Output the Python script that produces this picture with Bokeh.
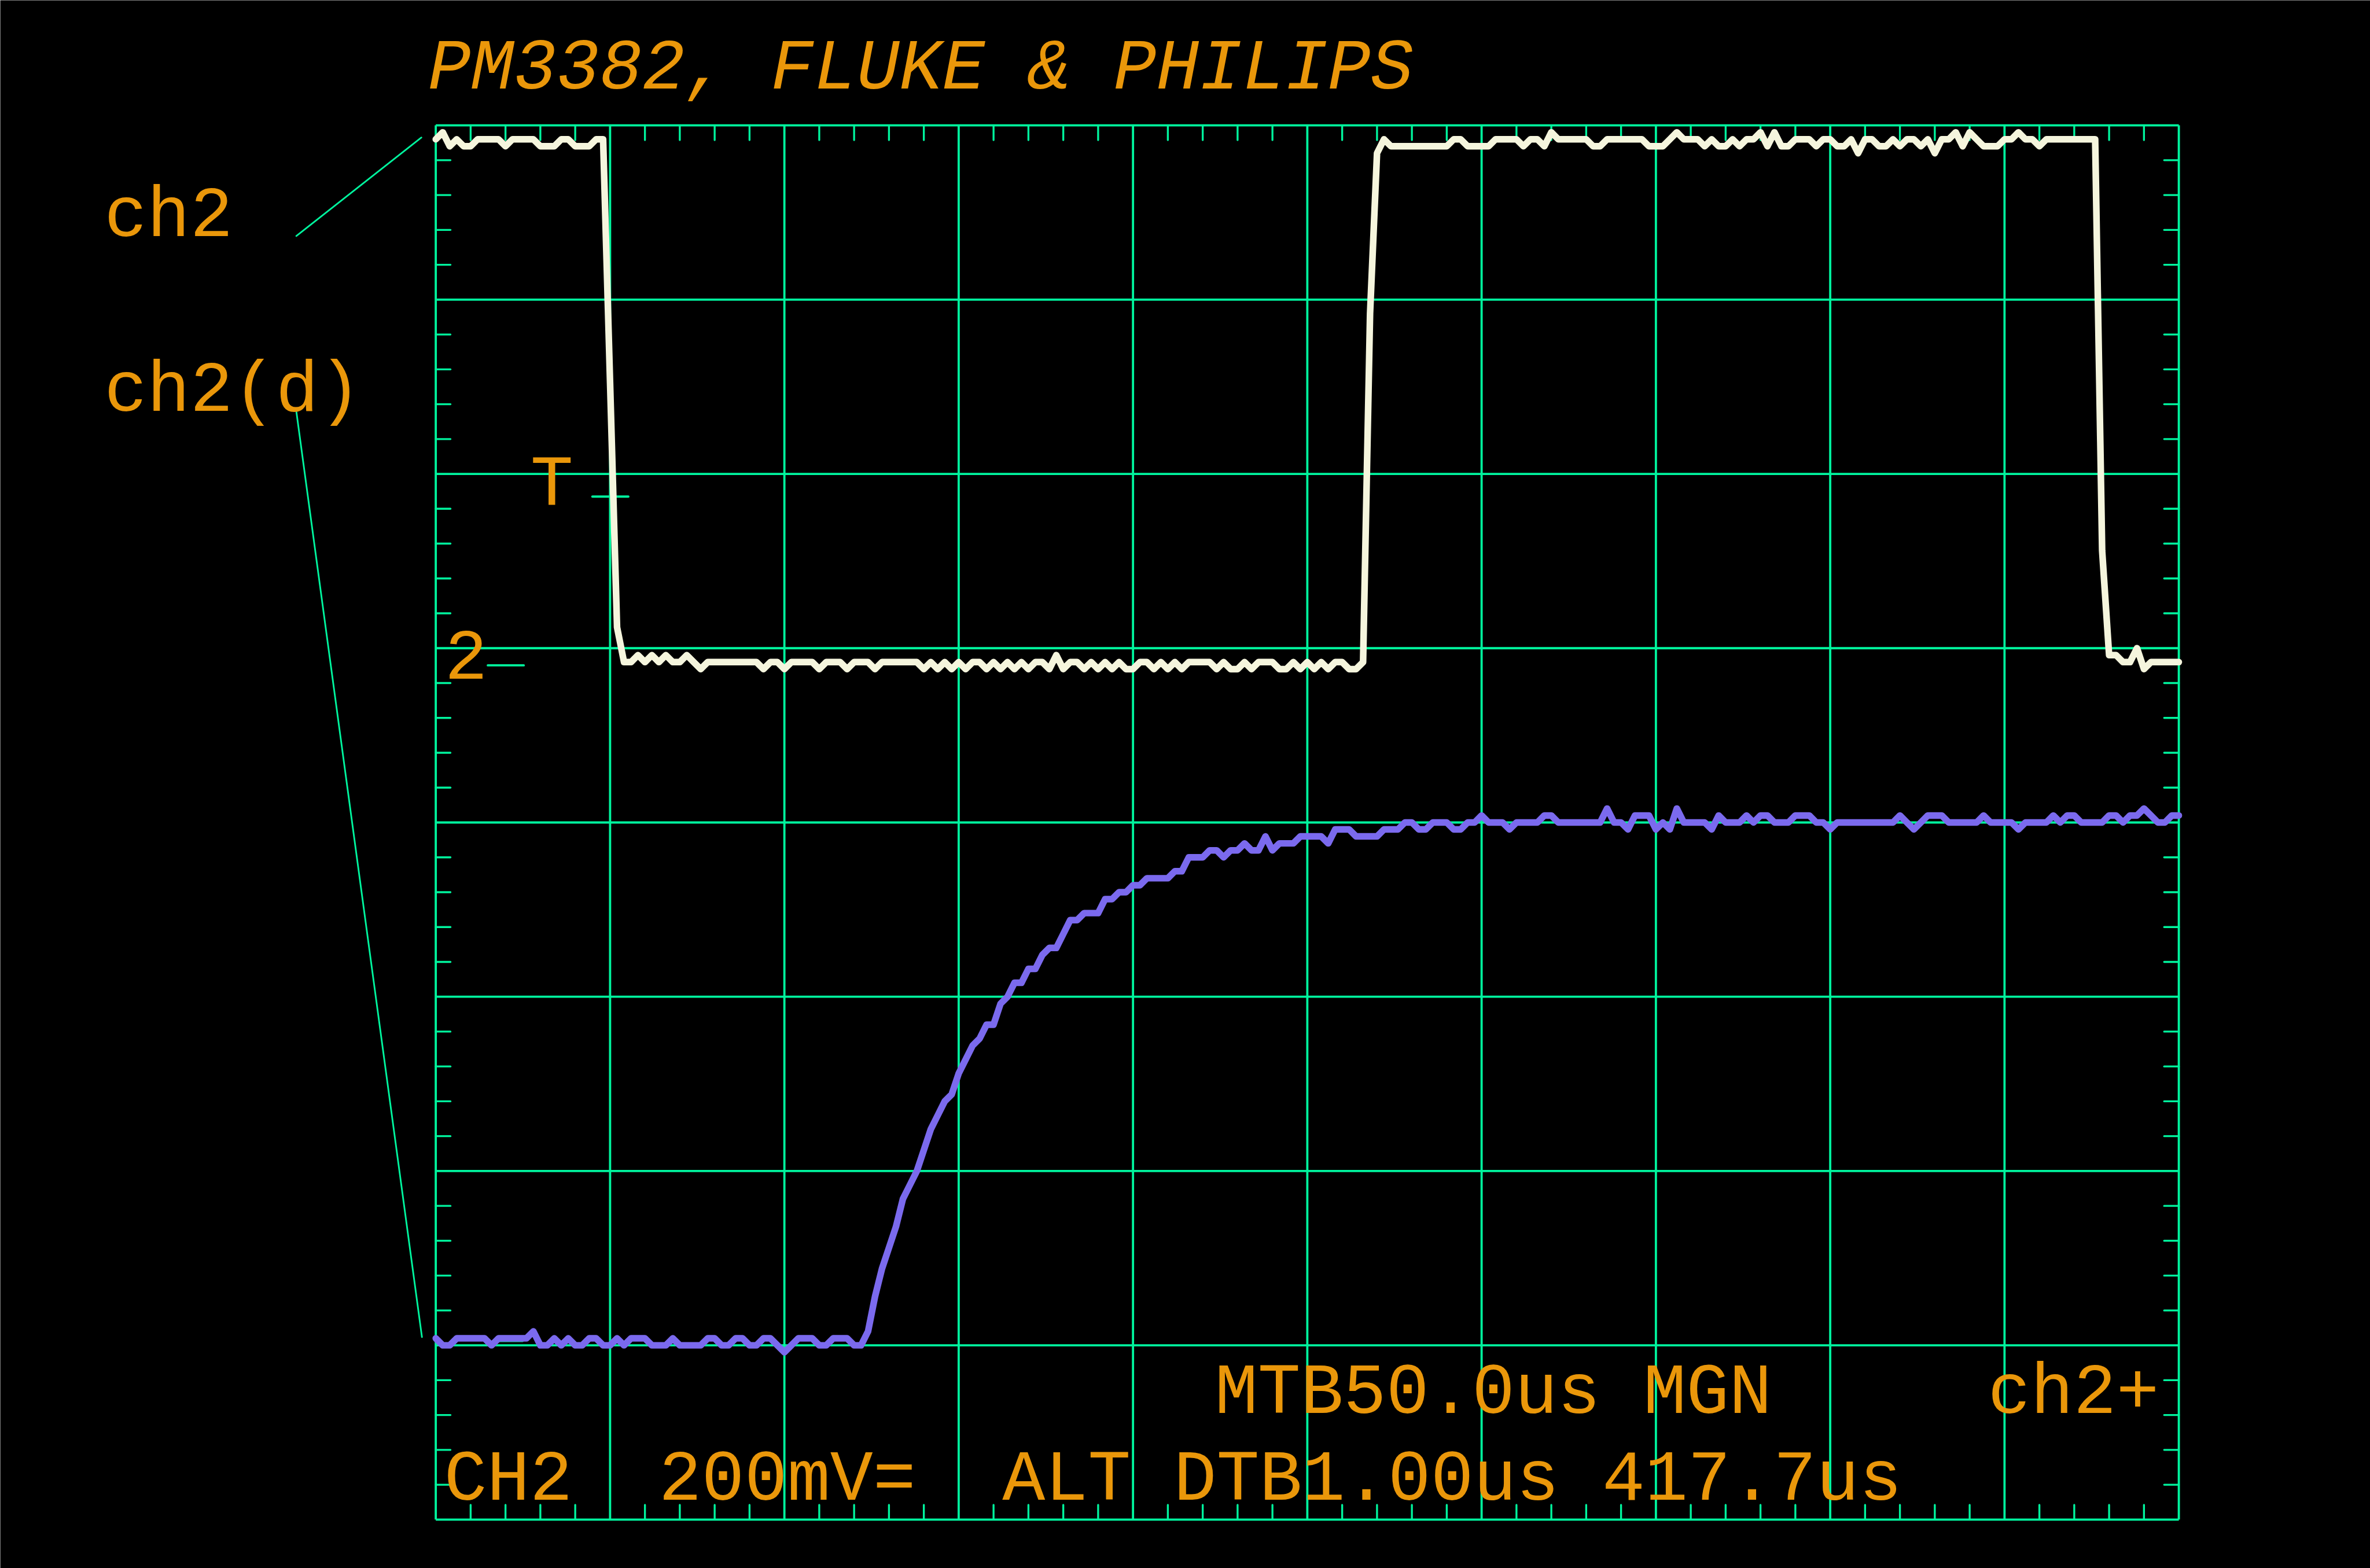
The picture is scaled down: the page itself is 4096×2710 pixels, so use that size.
from bokeh.plotting import figure
from bokeh.models import Range1d, ColumnDataSource
from bokeh.core.properties import value
from bokeh.embed import file_html
from bokeh.resources import INLINE

# ---------------- data (ADC counts, 25 counts per division; 25 samples per division) ----------------
ch2 = [198, 199, 197, 198, 197, 197, 198, 198, 198, 198, 197, 198, 198, 198, 198, 197, 197, 197, 198, 198,
       197, 197, 197, 198, 198,
       163, 128, 123, 123, 124, 123, 124, 123, 124, 123, 123, 124, 123, 122,
       123, 123, 123, 123, 123, 123, 123, 123,
       122, 123, 123, 122, 123, 123, 123, 123, 122, 123, 123, 123,
       122, 123, 123, 123, 122, 123, 123, 123, 123, 123, 123, 122,
       123, 122, 123, 122, 123, 122, 123, 123, 122, 123, 122, 123,
       122, 123, 122, 123, 123, 122, 124, 122, 123, 123, 122, 123, 122, 123, 122, 123, 122, 122,
       123, 123, 122, 123, 122, 123, 122, 123, 123, 123, 123, 122, 123, 122, 122, 123, 122, 123, 123, 123,
       122, 122, 123, 122, 123, 122, 123, 122, 123, 123, 122, 122, 123, 173, 196, 198,
       197, 197, 197, 197, 197, 197, 197, 197, 197,
       198, 198, 197, 197, 197, 197, 198, 198, 198, 198, 197, 198, 198, 197, 199, 198, 198, 198, 198, 198,
       197, 197, 198, 198, 198, 198, 198, 198, 197, 197, 197, 198, 199, 198, 198, 198, 197, 198, 197, 197,
       198, 197, 198, 198, 199,
       197, 199, 197, 197, 198, 198, 198, 197, 198, 198, 197, 197, 198, 196, 198, 198, 197, 197, 198, 197,
       198, 198, 197, 198, 196,
       198, 198, 199, 197, 199, 198, 197, 197, 197, 198, 198, 199, 198, 198, 197,
       198, 198, 198, 198, 198, 198, 198, 198,
       139, 124, 124, 123, 123, 125, 122, 123, 123, 123, 123, 123]

ch2_d = [26, 25, 25, 26, 26, 26, 26, 26, 25, 26, 26, 26, 26, 26, 27, 25, 25, 26, 25, 26,
         25, 25, 26, 26, 25, 25, 26, 25, 26, 26, 26, 25, 25, 25, 26, 25, 25, 25, 25, 26,
         26, 25, 25, 26, 26, 25, 25, 26, 26, 25, 24, 25, 26, 26, 26, 25, 25, 26, 26, 26,
         25, 25,
         27, 32, 36, 39, 42, 46, 48, 50, 53, 56, 58, 60, 61, 64, 66, 68, 69, 71, 71, 74, 75, 77,
         77, 79, 79, 81, 82, 82, 84, 86, 86, 87, 87, 87, 89, 89, 90, 90, 91, 91, 92, 92, 92, 92, 93, 93,
         95, 95, 95, 96, 96, 95, 96, 96, 97, 96, 96, 98, 96, 97, 97, 97, 98, 98, 98, 98, 97, 99, 99, 99,
         98, 98, 98, 98,
         99, 99, 99, 100, 100, 99, 99, 100, 100, 100, 99, 99, 100, 100, 101, 100, 100, 100, 99, 100,
         100, 100, 100, 101, 101, 100, 100, 100, 100, 100,
         100, 100, 102, 100, 100, 99, 101, 101, 101, 99, 100, 99, 102, 100, 100, 100, 100, 99, 101, 100,
         100, 100, 101, 100, 101, 101, 100, 100, 100, 101, 101, 101, 100, 100, 99,
         100, 100, 100, 100, 100, 100, 100, 100, 100, 101, 100, 99, 100, 101, 101, 101, 100, 100, 100, 100,
         100, 101, 100, 100, 100, 100, 99, 100, 100, 100, 100, 101, 100, 101, 101, 100, 100, 100, 100, 101,
         101, 100, 101, 101, 102, 101, 100, 100, 101, 101]

samples = list(range(len(ch2)))

x_divisions = [0, 25, 50, 75, 100, 125, 150, 175, 200, 225, 250]
y_divisions = [0, 25, 50, 75, 100, 125, 150, 175, 200]
x_subdiv = [v for v in range(0, 251, 5) if v % 25 != 0]
y_subdiv = [v for v in range(0, 201, 5) if v % 25 != 0]

title_text = "PM3382, FLUKE & PHILIPS"
label_ch2 = "ch2"
label_ch2d = "ch2(d)"
trig_label = "T"
gnd_label = "2"
# status lines: (text, character column)
status_top = [("MTB50.0us MGN", 0), ("ch2+", 18)]
status_bottom = [("CH2", 0), ("200mV=", 5), ("ALT DTB1.00us 417.7us", 13)]

# ---------------- geometry (reference pixels) ----------------
RW, RH = 4283, 2834
W, H = 4096, 2710
S = W / RW
FL, FR, FT, FB = 787, 3937, 226, 2746
NS, NC = 250, 200
DX = (FR - FL) / NS
DY = (FB - FT) / NC
CELL = 77.6          # character cell width of the screen font
TXT_SHIFT = 36       # baseline correction


def X(px):
    return (px - FL) / DX


def Y(py):
    return (FB - py) / DY


GREEN = "#00F59E"
ORANGE = "#EA970A"
WHITE = "#F5F5DD"
PURPLE = "#7B6AEE"

p = figure(width=W, height=H,
           x_range=Range1d(X(0), X(RW)), y_range=Range1d(Y(RH), Y(0)),
           output_backend="svg", toolbar_location=None,
           x_axis_type=None, y_axis_type=None,
           min_border=0, min_border_left=0, min_border_right=0,
           min_border_top=0, min_border_bottom=0,
           background_fill_color="black", border_fill_color="black",
           outline_line_color=None)

grid_w = 4.0 * S
tick_len = 26.5 / DX

# graticule
p.segment(x0=x_divisions, y0=[0] * len(x_divisions), x1=x_divisions, y1=[NC] * len(x_divisions),
          line_color=GREEN, line_width=grid_w)
p.segment(x0=[0] * len(y_divisions), y0=y_divisions, x1=[NS] * len(y_divisions), y1=y_divisions,
          line_color=GREEN, line_width=grid_w)

# sub-division ticks on the border
tx0 = x_subdiv + x_subdiv
ty0 = [NC] * len(x_subdiv) + [0] * len(x_subdiv)
ty1 = [NC - tick_len] * len(x_subdiv) + [tick_len] * len(x_subdiv)
p.segment(x0=tx0, y0=ty0, x1=tx0, y1=ty1, line_color=GREEN, line_width=3.5 * S, line_cap="round")
sy0 = y_subdiv + y_subdiv
sx0 = [0] * len(y_subdiv) + [NS] * len(y_subdiv)
sx1 = [tick_len] * len(y_subdiv) + [NS - tick_len] * len(y_subdiv)
p.segment(x0=sx0, y0=sy0, x1=sx1, y1=sy0, line_color=GREEN, line_width=3.5 * S, line_cap="round")

# leader lines and markers
p.segment(x0=[X(535), X(535)], y0=[Y(426), Y(743)], x1=[X(761), X(762)], y1=[Y(248), Y(2416)],
          line_color=GREEN, line_width=3.0 * S, line_cap="round")
p.segment(x0=[X(1070), X(881), X(897)], y0=[Y(897), Y(1202), Y(2423)],
          x1=[X(1135), X(946), X(944)], y1=[Y(897), Y(1202), Y(2423)],
          line_color=GREEN, line_width=4.0 * S, line_cap="round")

# traces
src = ColumnDataSource(dict(x=samples, ch2=ch2, ch2d=ch2_d))
p.line("x", "ch2", source=src, line_color=WHITE, line_width=12.0 * S,
       line_join="round", line_cap="round")
p.line("x", "ch2d", source=src, line_color=PURPLE, line_width=12.0 * S,
       line_join="round", line_cap="round")

# texts
FS = "%.1fpx" % (129 * S)
FONT = value("Liberation Mono")
texts = [
    (label_ch2, 188, 428),
    (label_ch2d, 188, 743),
    (trig_label, 958, 914),
    (gnd_label, 803, 1219),
]
for t, col in status_top:
    texts.append((t, 2195 + col * CELL, 2555))
for t, col in status_bottom:
    texts.append((t, 802 + col * CELL, 2712))

p.text(x=[X(t[1]) for t in texts], y=[Y(t[2] - TXT_SHIFT) for t in texts], text=[t[0] for t in texts],
       text_font=FONT, text_font_size=value(FS), text_color=ORANGE,
       text_align="left", text_baseline="alphabetic")
p.text(x=[X(773)], y=[Y(161 - TXT_SHIFT)], text=[title_text],
       text_font=FONT, text_font_size=value(FS), text_font_style="italic", text_color=ORANGE,
       text_align="left", text_baseline="alphabetic")

open("out.html", "w").write(file_html(p, INLINE))
